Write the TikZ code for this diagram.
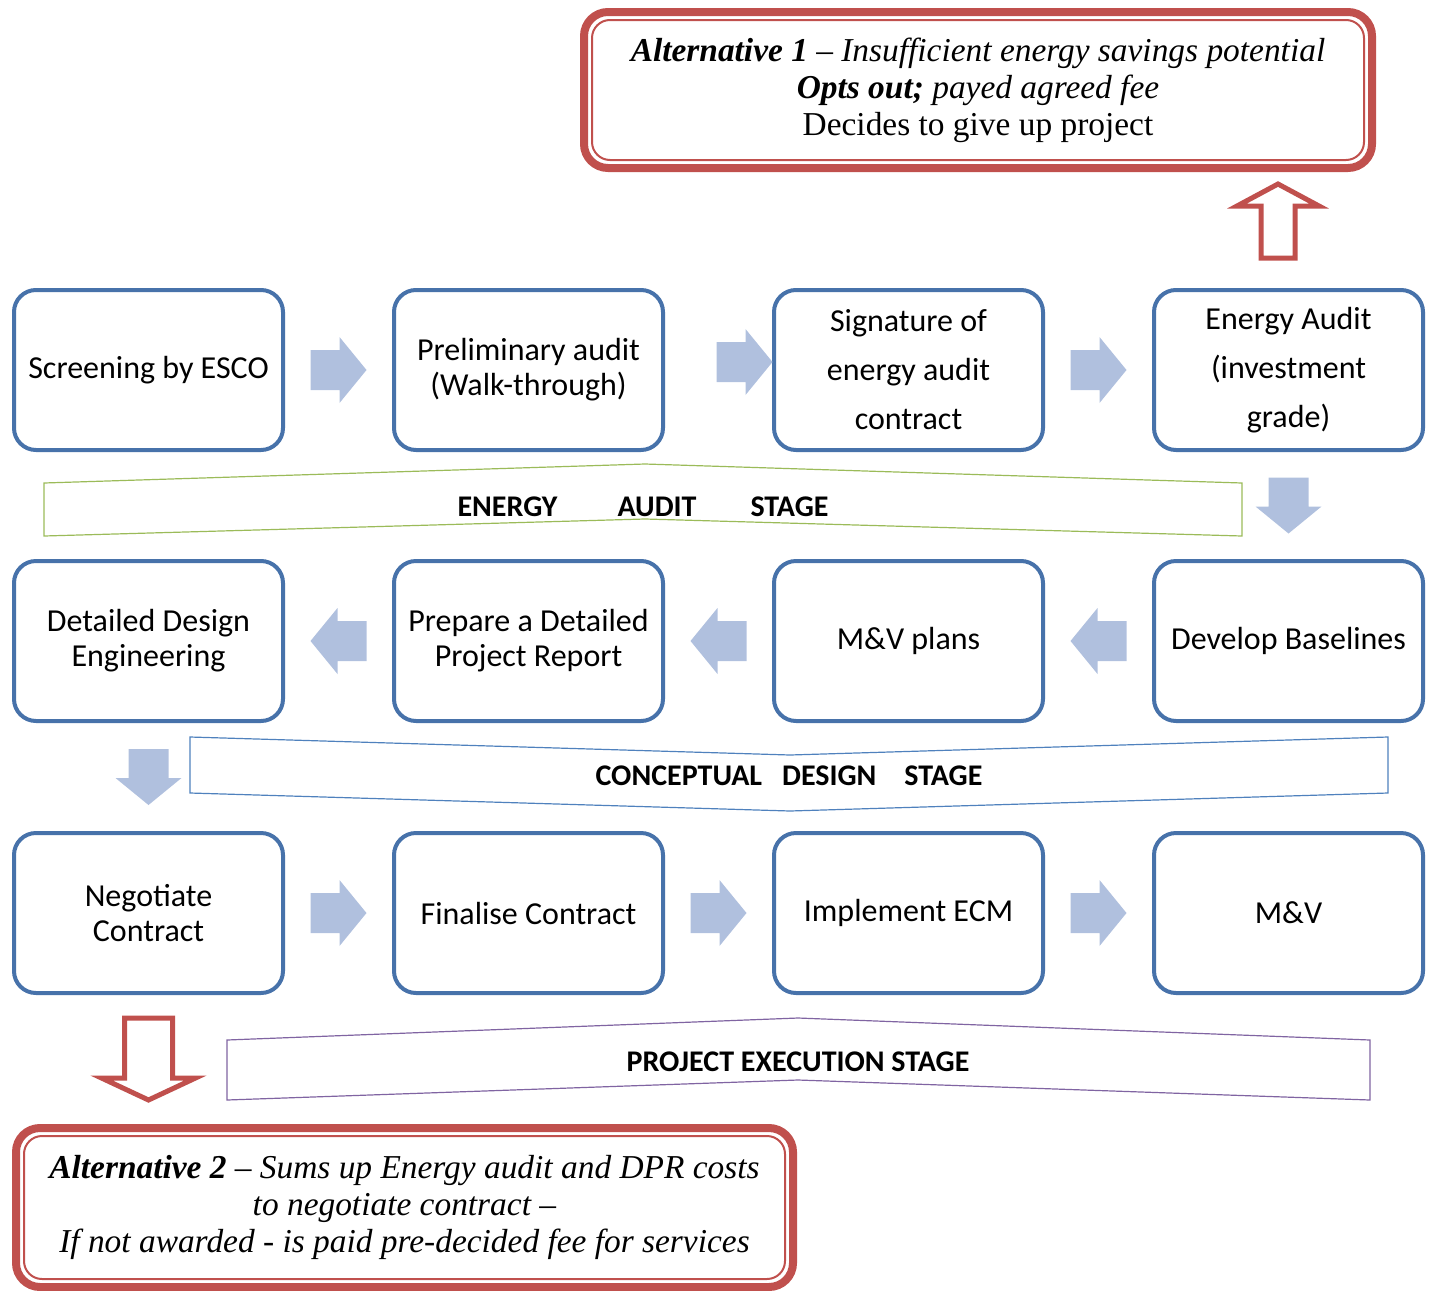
\documentclass[tikz,border=0pt]{standalone}
\usepackage{fontspec}
\setmainfont{Liberation Serif}
\newfontfamily\calibri{Carlito}
\usetikzlibrary{calc,positioning}
\definecolor{boxblue}{RGB}{71,114,170}
\definecolor{arrblue}{RGB}{176,192,222}
\definecolor{altred}{RGB}{192,80,77}
\definecolor{stgreen}{RGB}{155,187,89}
\definecolor{stblue}{RGB}{79,129,189}
\definecolor{stpurple}{RGB}{128,100,162}
\tikzset{
  stepnode/.style={draw=boxblue, line width=2pt, rounded corners=11pt, outer sep=0pt,
    minimum width=134.5pt, minimum height=80pt, inner sep=0pt, align=center,
    font=\calibri\fontsize{16}{17.5}\selectfont},
  tallnode/.style={stepnode, font=\calibri\fontsize{16}{24.5}\selectfont},
  altbox/.style={draw=altred, line width=4pt, rounded corners=12pt, outer sep=0pt,
    inner sep=0pt, align=center, font=\fontsize{16.7}{18.5}\selectfont},
  altinner/.style={draw=altred, line width=1pt, rounded corners=9pt},
  hollow/.style={draw=altred, line width=2.5pt, fill=white},
  stagelbl/.style={font=\calibri\bfseries\fontsize{15}{18}\selectfont},
  fatarrow/.pic={\fill[arrblue] (-28,-20) -- (1,-20) -- (1,-33) -- (28,0) -- (1,33) -- (1,20) -- (-28,20) -- cycle;}
}
\begin{document}
\begin{tikzpicture}[x=0.5pt,y=-0.5pt]
    \useasboundingbox (0,0) rectangle (1434,1290);

    \node[stepnode] (screen) at (148.5,370) {Screening by ESCO};
    \node[stepnode] (prelim) at (528.5,370) {Preliminary audit\\(Walk-through)};
    \node[tallnode] (sign) at (908.5,370) {Signature of\\energy audit\\contract};
    \node[tallnode] (audit) at (1288.5,370) {Energy Audit\\(investment\\grade)};

    \node[stepnode] (baseline) at (1288.5,641) {Develop Baselines};
    \node[stepnode] (mvplan) at (908.5,641) {M\&V plans};
    \node[stepnode] (dpr) at (528.5,641) {Prepare a Detailed\\Project Report};
    \node[stepnode] (design) at (148.5,641) {Detailed Design\\Engineering};

    \node[stepnode] (negot) at (148.5,913) {Negotiate\\Contract};
    \node[stepnode] (final) at (528.5,913) {Finalise Contract};
    \node[stepnode] (ecm) at (908.5,913) {Implement ECM};
    \node[stepnode] (mv) at (1288.5,913) {M\&V};

    \foreach \a/\b in {screen/prelim, sign/audit, negot/final, final/ecm, ecm/mv}
        \pic at ($(\a.east)!0.5!(\b.west)$) {fatarrow};
    \pic at ($(prelim.east)!0.5!(sign.west)+(26,-8)$) {fatarrow};
    \foreach \a/\b in {baseline/mvplan, mvplan/dpr, dpr/design}
        \pic[rotate=180] at ($(\a.west)!0.5!(\b.east)$) {fatarrow};
    \pic[rotate=-90] at ($(audit.south)!0.5!(baseline.north)$) {fatarrow};
    \pic[rotate=-90] at ($(design.south)!0.5!(negot.north)$) {fatarrow};

    \draw[stgreen, line width=0.6pt] (44,483) -- (645,464) -- (1242,483) -- (1242,536) -- (645,519) -- (44,536) -- cycle;
    \node[stagelbl] (stage1) at (643,507) {ENERGY\hspace{30pt}AUDIT\hspace{27pt}STAGE};
    \draw[stblue, line width=0.6pt] (190,737) -- (790,755) -- (1388,737) -- (1388,793) -- (790,811) -- (190,793) -- cycle;
    \node[stagelbl] (stage2) at (789,776) {CONCEPTUAL\hspace{10pt}DESIGN\hspace{14pt}STAGE};
    \draw[stpurple, line width=0.6pt] (227,1040) -- (798,1018) -- (1370,1040) -- (1370,1100) -- (798,1080) -- (227,1100) -- cycle;
    \node[stagelbl] (stage3) at (798,1062) {PROJECT EXECUTION STAGE};

    \node[altbox, minimum width=394pt, minimum height=78pt] (alt1) at (978,90) {%
    \textbf{\textit{Alternative 1}} – \textit{Insufficient energy savings potential}\\
    \textbf{\textit{Opts out;}} \textit{payed agreed fee}\\
    Decides to give up project};
    \draw[altinner] ([shift={(8,8)}]alt1.north west) rectangle ([shift={(-8,-8)}]alt1.south east);

    \node[altbox, minimum width=388.5pt, minimum height=79.5pt] (alt2) at (404.5,1207.5) {%
    \textbf{\textit{Alternative 2}} – \textit{Sums up Energy audit and DPR costs}\\
    \textit{to negotiate contract –}\\
    \textit{If not awarded - is paid pre-decided fee for services}};
    \draw[altinner] ([shift={(8,8)}]alt2.north west) rectangle ([shift={(-8,-8)}]alt2.south east);

    \draw[hollow] ($(audit.north)+(-10.5,-32)$) ++(-17,0) -- ++(0,-52) -- ++(-24,0) -- ++(41,-22) -- ++(41,22) -- ++(-24,0) -- ++(0,52) -- cycle;
    \draw[hollow] ($(negot.south)+(0,25)$) ++(-24,0) -- ++(0,60) -- ++(-23,0) -- ++(47,22) -- ++(47,-22) -- ++(-23,0) -- ++(0,-60) -- cycle;
\end{tikzpicture}
\end{document}
